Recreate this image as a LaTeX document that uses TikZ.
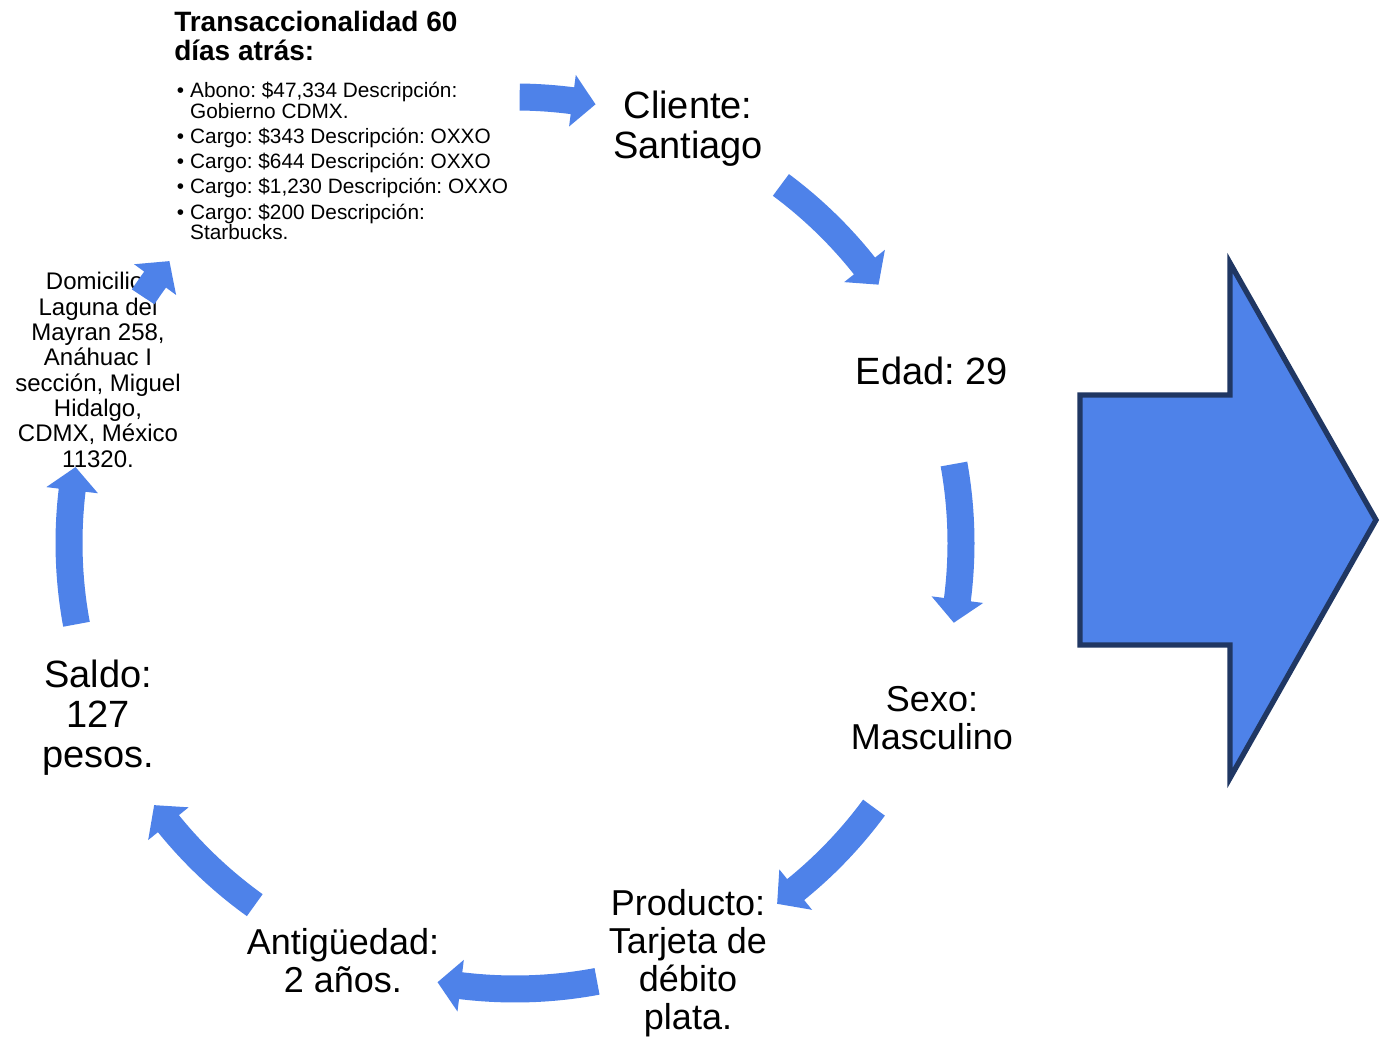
\documentclass[tikz,border=0pt]{standalone}
\usepackage{fontspec}
\setmainfont{Liberation Sans}
\frenchspacing
\definecolor{cyclefill}{HTML}{4E82E9}
\definecolor{bignavy}{HTML}{203763}

% curved block arrow on the cycle circle, clockwise from angle #1 to tip angle #2
\newcommand{\cyclearrow}[2]{%
  \pgfmathsetmacro{\hbase}{#2+\headang}%
  \fill[cyclefill]
    plot[domain=#1:\hbase, samples=30] (\x:\Rout)
    -- (\hbase:\Rhout) -- (#2:\Rmid) -- (\hbase:\Rhin)
    -- plot[domain=\hbase:#1, samples=30] (\x:\Rin) -- cycle;}

\begin{document}
\begin{tikzpicture}[x=0.75pt, y=0.75pt,
  bigtext/.style={align=center, inner sep=0pt, font=\fontsize{28.5}{30}\selectfont},
  midtext/.style={align=center, inner sep=0pt, font=\fontsize{27}{28.5}\selectfont},
  smalltext/.style={align=center, inner sep=0pt, font=\fontsize{18}{19}\selectfont},
  titletext/.style={align=left, inner sep=0pt, font=\fontsize{21}{21.75}\selectfont\bfseries},
  listtext/.style={align=left, inner sep=0pt, font=\fontsize{15.6}{15.2}\selectfont}]

\fill[white] (0,0) rectangle (1383,1038);
\useasboundingbox (0,0) rectangle (1383,1038);

\def\Rmid{446}\def\Rout{459.5}\def\Rin{432.5}
\def\Rhout{472}\def\Rhin{420}\def\headang{3}

% ring of labels
\node[titletext, anchor=west] (trans) at (174,1002)
  {Transaccionalidad 60\\días atrás:};
\newcommand{\bul}{\makebox[10.1pt][l]{•}}
\newcommand{\ind}{\makebox[10.1pt]{}}
\node[listtext, anchor=west] (lista) at (176.5,877)
  {\bul Abono: \$47,334 Descripción:\\
   \ind Gobierno CDMX.\\[3.75pt]
   \bul Cargo: \$343 Descripción: OXXO\\[3.75pt]
   \bul Cargo: \$644 Descripción: OXXO\\[3.75pt]
   \bul Cargo: \$1,230 Descripción: OXXO\\[3.75pt]
   \bul Cargo: \$200 Descripción:\\
   \ind Starbucks.};
\node[bigtext] (cliente) at (688,909) {Cliente:\\Santiago};
\node[bigtext] (edad) at (932,667) {Edad: 29};
\node[midtext] (sexo) at (932,320) {Sexo:\\Masculino};
\node[midtext] (producto) at (688,75) {Producto:\\Tarjeta de\\débito\\plata.};
\node[midtext] (antig) at (343,77) {Antigüedad:\\2 años.};
\node[bigtext] (saldo) at (98,320) {Saldo:\\127\\pesos.};

% cycle arrows
\begin{scope}[shift={(515,495)}]
  \cyclearrow{89.4}{79.6}
  \cyclearrow{53.4}{35.4}
  \cyclearrow{10.2}{-10.3}
  \cyclearrow{-36.4}{-54}
  \cyclearrow{-79.4}{-100}
  \cyclearrow{-125.7}{-144}
  \cyclearrow{190.5}{170.2}
\end{scope}

\node[smalltext] (domic) at (98,668)
  {Domicilio:\\Laguna del\\Mayran 258,\\Anáhuac I\\sección, Miguel\\Hidalgo,\\CDMX, México\\11320.};

\begin{scope}[shift={(515,495)}]
  \cyclearrow{146.5}{140.8}
\end{scope}

% large outlined arrow on the right
\draw[fill=cyclefill, draw=bignavy, line width=4pt, miter limit=10]
  (1080,643) -- (1230,643) -- (1230,775) -- (1376,518)
  -- (1230,260) -- (1230,393) -- (1080,393) -- cycle;
\end{tikzpicture}
\end{document}
